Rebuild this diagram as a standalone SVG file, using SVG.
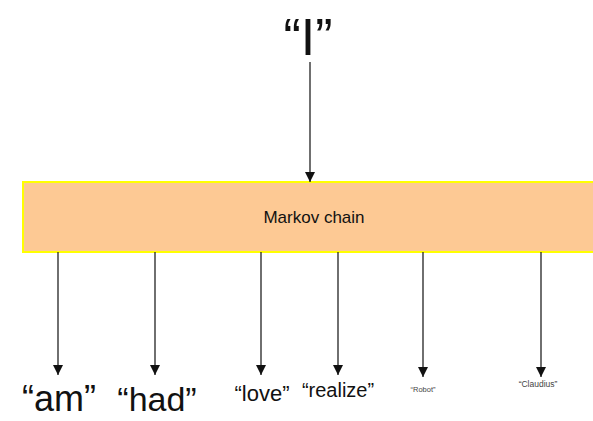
<svg xmlns="http://www.w3.org/2000/svg" width="593" height="421" viewBox="0 0 593 421">
  <style>
    .lbl { font-family: "Liberation Sans", Arial, sans-serif; fill: #111; text-anchor: middle; }
    .tiny { fill: #444; }
    .edge { stroke: #222; stroke-width: 1.3; fill: none; marker-end: url(#arrow); }
    .box { fill: #fdc994; stroke: #ffff00; stroke-width: 2; }
  </style>
  <defs>
    <marker id="arrow" markerUnits="userSpaceOnUse" markerWidth="10" markerHeight="12" refX="10" refY="5" orient="auto">
      <path d="M0,0 L10,5 L0,10 Z" fill="#111"/>
    </marker>
  </defs>
  <rect width="593" height="421" fill="#ffffff"/>

  <g id="word-i">
    <text class="lbl" x="308" y="55" font-size="52">“I”</text>
  </g>

  <g id="markov-chain">
    <rect class="box" x="23" y="182" width="580" height="70"/>
    <text class="lbl" x="314" y="223" font-size="17">Markov chain</text>
  </g>

  <g id="word-am">
    <text class="lbl" x="59" y="411" font-size="36">“am”</text>
  </g>
  <g id="word-had">
    <text class="lbl" x="157" y="411" font-size="34">“had”</text>
  </g>
  <g id="word-love">
    <text class="lbl" x="262" y="401" font-size="22">“love”</text>
  </g>
  <g id="word-realize">
    <text class="lbl" x="338" y="397" font-size="20">“realize”</text>
  </g>
  <g id="word-robot">
    <text class="lbl tiny" x="423" y="392" font-size="7.5">“Robot”</text>
  </g>
  <g id="word-claudius">
    <text class="lbl tiny" x="538" y="387" font-size="8.5">“Claudius”</text>
  </g>

  <g id="connectors">
    <line class="edge" x1="310" y1="62" x2="310" y2="182"/>
    <line class="edge" x1="58" y1="252" x2="58" y2="375"/>
    <line class="edge" x1="155" y1="252" x2="155" y2="375"/>
    <line class="edge" x1="261" y1="252" x2="261" y2="375"/>
    <line class="edge" x1="338" y1="252" x2="338" y2="375"/>
    <line class="edge" x1="423" y1="252" x2="423" y2="377"/>
    <line class="edge" x1="541" y1="252" x2="541" y2="377"/>
  </g>
</svg>
